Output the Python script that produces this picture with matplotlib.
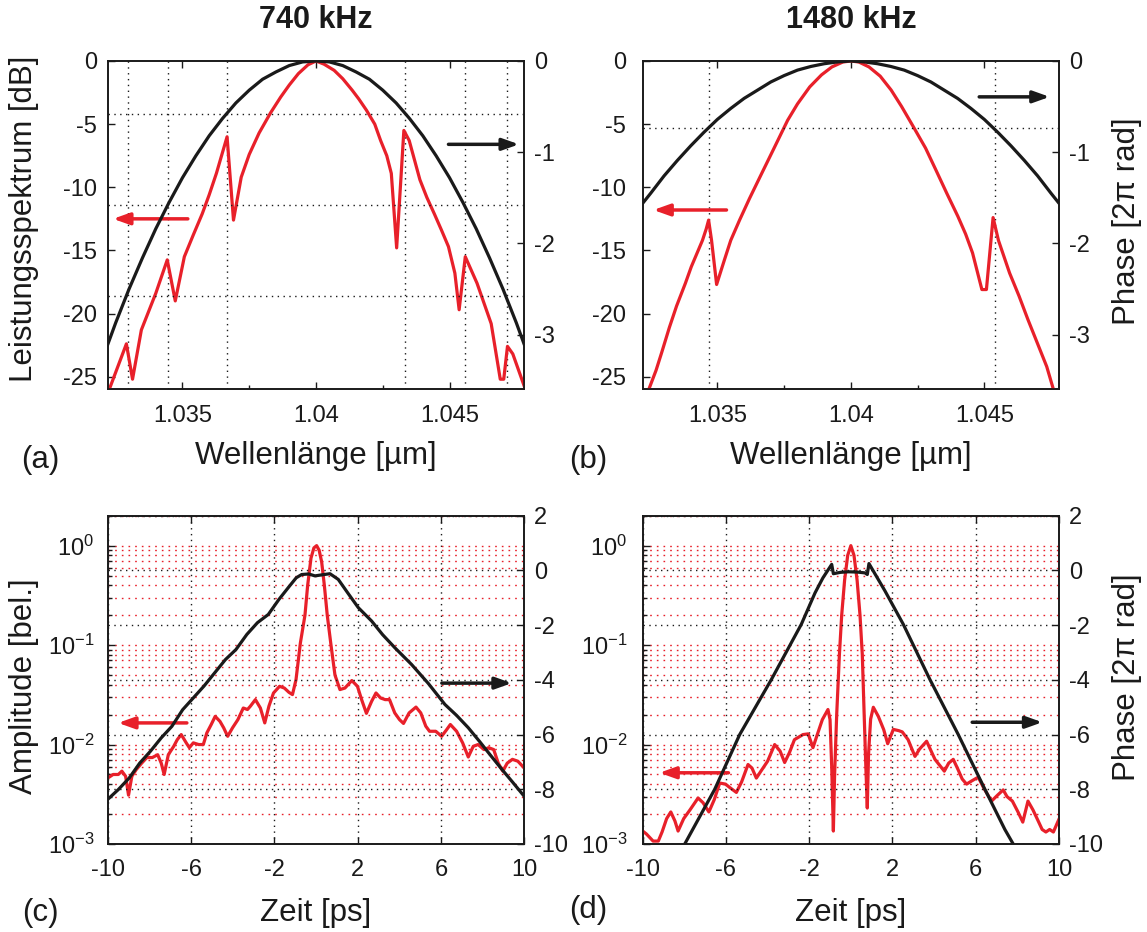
import matplotlib
matplotlib.use("Agg")
import matplotlib.pyplot as plt
from matplotlib.ticker import FixedLocator, NullFormatter, LogLocator

plt.rcParams['font.family'] = ['Liberation Sans', 'DejaVu Sans']
plt.rcParams['axes.unicode_minus'] = False
plt.rcParams['mathtext.default'] = 'regular'

RED = '#e8202a'
BLACK = '#1a1a1a'

# ---------------- data: spectra (a) 740 kHz ----------------
wl_a = [1.03226, 1.0329, 1.03313, 1.03346, 1.0340, 1.03443, 1.03473, 1.03507, 1.0354, 1.03574,
        1.0360, 1.03627, 1.03667, 1.03691, 1.0372, 1.0375, 1.03787, 1.0383, 1.03868, 1.0390,
        1.03934, 1.0397, 1.0400, 1.0403, 1.04068, 1.0410, 1.04135, 1.0416, 1.04189, 1.0422,
        1.04242, 1.04265, 1.04282, 1.04302, 1.04329, 1.04349, 1.04389, 1.04415, 1.04443, 1.0447,
        1.04496, 1.0452, 1.04536, 1.04559, 1.04603, 1.04656, 1.0469, 1.04703, 1.04717, 1.04737,
        1.04784]
spec_a = [-26.0, -22.4, -25.2, -21.3, -18.4, -15.75, -19.0, -15.5, -13.8, -12.1,
          -10.6, -8.9, -6.0, -12.6, -9.2, -7.4, -5.7, -4.1, -2.85, -1.9,
          -1.0, -0.3, 0.0, -0.25, -0.74, -1.4, -2.3, -3.0, -3.9, -5.0,
          -6.3, -7.5, -8.9, -14.8, -5.5, -6.3, -9.4, -10.8, -12.1, -13.4,
          -14.7, -16.8, -19.7, -15.5, -17.6, -20.8, -25.2, -25.2, -22.6, -23.2,
          -26.0]

# spectra (b) 1480 kHz
wl_b = [1.03243, 1.0327, 1.03291, 1.0332, 1.03347, 1.0338, 1.03402, 1.0343, 1.03444, 1.03458,
        1.03467, 1.03478, 1.03497, 1.03527, 1.0355, 1.03583, 1.0362, 1.03666, 1.0371, 1.03763,
        1.0380, 1.03846, 1.0389, 1.03929, 1.0397, 1.0400, 1.0403, 1.04068, 1.0411, 1.04151,
        1.0419, 1.04234, 1.0428, 1.04318, 1.0436, 1.04401, 1.0443, 1.04456, 1.04491, 1.04508,
        1.04533, 1.04553, 1.04595, 1.0463, 1.04664, 1.047, 1.04734, 1.04759]
spec_b = [-26.0, -24.5, -23.1, -21.1, -19.4, -17.6, -16.3, -14.9, -14.2, -13.3,
          -12.6, -14.2, -17.7, -15.7, -14.2, -12.6, -10.9, -8.9, -7.0, -4.7,
          -3.4, -2.05, -1.1, -0.47, -0.08, 0.0, -0.08, -0.47, -1.2, -2.3,
          -3.6, -5.2, -6.9, -8.6, -10.5, -12.3, -13.7, -15.2, -18.1, -18.1,
          -12.4, -14.2, -16.8, -18.6, -20.5, -22.4, -24.2, -26.0]

# spectral phase (2pi rad), read along the wavelength grid
wl_ph = [1.0322, 1.0325, 1.0330, 1.0335, 1.0340, 1.0345, 1.0350, 1.0355, 1.0360, 1.0365,
         1.0370, 1.0375, 1.0380, 1.0385, 1.0390, 1.0395, 1.0400, 1.0405, 1.0410, 1.0415,
         1.0420, 1.0425, 1.0430, 1.0435, 1.0440, 1.0445, 1.0450, 1.0455, 1.0460, 1.0465,
         1.0470, 1.0475, 1.0478]
phase_a = [-3.11, -2.87, -2.50, -2.16, -1.84, -1.55, -1.28, -1.04, -0.82, -0.63,
           -0.46, -0.32, -0.20, -0.12, -0.05, -0.01, 0.0, -0.01, -0.05, -0.12,
           -0.20, -0.32, -0.46, -0.63, -0.82, -1.04, -1.28, -1.55, -1.84, -2.16,
           -2.50, -2.87, -3.11]
phase_b = [-1.56, -1.45, -1.26, -1.09, -0.93, -0.78, -0.64, -0.52, -0.41, -0.32,
           -0.23, -0.16, -0.10, -0.06, -0.03, -0.01, 0.0, -0.01, -0.03, -0.06,
           -0.10, -0.16, -0.23, -0.32, -0.41, -0.52, -0.64, -0.78, -0.93, -1.09,
           -1.26, -1.45, -1.56]

# marker lines (dotted) in the spectra
vlines_a = [1.03295, 1.03447, 1.03667, 1.04334, 1.04559, 1.04715]
hlines_a = [-0.58, -1.58, -2.58]
vlines_b = [1.03467, 1.04542]
hlines_b = [-0.74]

# ---------------- data: time domain (c) ----------------
t_c = [-10.0, -9.74, -9.49, -9.32, -9.14, -9.0, -8.84, -8.63, -8.37, -8.12,
       -7.86, -7.60, -7.43, -7.29, -7.09, -6.83, -6.66, -6.47, -6.23, -6.08,
       -5.89, -5.63, -5.41, -5.24, -5.03, -4.84, -4.61, -4.43, -4.24, -4.01,
       -3.75, -3.49, -3.29, -3.15, -2.91, -2.67, -2.46, -2.26, -2.04, -1.75,
       -1.52, -1.30, -1.13, -0.96, -0.75, -0.53, -0.40, -0.24, -0.10, 0.03,
       0.15, 0.27, 0.40, 0.54, 0.72, 0.91, 1.15, 1.39, 1.72, 1.99,
       2.19, 2.42, 2.67, 2.88, 3.10, 3.32, 3.53, 3.78, 4.01, 4.20,
       4.47, 4.80, 5.03, 5.27, 5.45, 5.75, 6.03, 6.27, 6.45, 6.75,
       7.04, 7.31, 7.55, 7.78, 8.07, 8.29, 8.53, 8.75, 8.97, 9.18,
       9.43, 9.69, 10.0]
amp_c = [0.0046, 0.0050, 0.0050, 0.0054, 0.0048, 0.0031, 0.0048, 0.0056, 0.0065, 0.0074,
         0.0074, 0.0079, 0.0065, 0.0050, 0.0079, 0.0096, 0.0112, 0.0126, 0.0104, 0.0093,
         0.0104, 0.0100, 0.0100, 0.0131, 0.0159, 0.0192, 0.0171, 0.0147, 0.0121, 0.0147,
         0.0178, 0.0233, 0.0225, 0.0243, 0.0283, 0.0233, 0.0165, 0.0243, 0.0330, 0.0385,
         0.0370, 0.0335, 0.0318, 0.0449, 0.105, 0.20, 0.40, 0.75, 0.95, 1.0,
         0.90, 0.69, 0.40, 0.20, 0.10, 0.050, 0.0357, 0.0370, 0.0440, 0.0385,
         0.0283, 0.0206, 0.0272, 0.0330, 0.0294, 0.0283, 0.0283, 0.0208, 0.0178, 0.0163,
         0.0208, 0.0238, 0.0208, 0.0153, 0.0136, 0.0136, 0.0121, 0.0141, 0.0159, 0.0136,
         0.0104, 0.0075, 0.0096, 0.0100, 0.0089, 0.0093, 0.0089, 0.0065, 0.0054, 0.0065,
         0.0071, 0.0068, 0.0058]

tph_c = [-10.0, -9.49, -8.97, -8.46, -7.95, -7.43, -6.92, -6.40, -5.89, -5.38,
         -4.86, -4.35, -3.84, -3.32, -2.81, -2.29, -1.78, -1.27, -0.95, -0.69,
         -0.35, -0.05, 0.30, 0.67, 1.07, 1.55, 2.03, 2.67, 3.20, 3.79,
         4.59, 5.39, 6.19, 6.75, 7.31, 7.85, 8.35, 8.90, 9.45, 10.0]
ph_c = [-8.37, -8.01, -7.59, -7.04, -6.61, -6.12, -5.70, -5.09, -4.66, -4.23,
        -3.74, -3.26, -2.89, -2.34, -1.91, -1.61, -1.06, -0.57, -0.27, -0.15,
        -0.13, -0.20, -0.16, -0.12, -0.33, -0.85, -1.36, -1.85, -2.35, -2.83,
        -3.44, -4.13, -4.90, -5.30, -5.75, -6.25, -6.73, -7.25, -7.75, -8.26]

# ---------------- data: time domain (d) ----------------
t_d = [-10.0, -9.82, -9.50, -9.25, -9.07, -8.85, -8.65, -8.45, -8.30, -8.03,
       -7.73, -7.34, -7.10, -6.82, -6.56, -6.30, -6.02, -5.82, -5.50, -5.25,
       -4.94, -4.75, -4.54, -4.32, -4.00, -3.66, -3.40, -3.18, -2.95, -2.71,
       -2.30, -2.05, -1.82, -1.64, -1.37, -1.10, -1.00, -0.92, -0.84, -0.78,
       -0.68, -0.55, -0.44, -0.30, -0.15, 0.0, 0.15, 0.30, 0.44, 0.55,
       0.64, 0.72, 0.79, 0.85, 0.95, 1.08, 1.32, 1.58, 1.77, 2.04,
       2.30, 2.47, 2.75, 3.08, 3.30, 3.64, 4.04, 4.49, 4.70, 4.92,
       5.15, 5.35, 5.56, 5.80, 6.12, 6.40, 6.76, 7.05, 7.32, 7.50,
       7.76, 8.03, 8.26, 8.51, 8.75, 8.98, 9.19, 9.37, 9.55, 9.73,
       10.0]
amp_d = [0.00135, 0.00126, 0.00107, 0.00107, 0.00132, 0.0018, 0.0021, 0.0017, 0.00135, 0.0018,
         0.0022, 0.0029, 0.0026, 0.0021, 0.0028, 0.0041, 0.0040, 0.0037, 0.0033, 0.0042,
         0.0063, 0.0058, 0.0046, 0.0054, 0.0068, 0.0100, 0.0086, 0.0066, 0.0083, 0.0112,
         0.0126, 0.0128, 0.0093, 0.0121, 0.0178, 0.0225, 0.0178, 0.0060, 0.00135, 0.0050,
         0.020, 0.080, 0.20, 0.45, 0.80, 1.0, 0.80, 0.45, 0.20, 0.080,
         0.020, 0.0060, 0.0023, 0.0080, 0.018, 0.0237, 0.0192, 0.0141, 0.0102, 0.0142,
         0.0138, 0.0134, 0.0112, 0.0076, 0.0090, 0.0108, 0.0071, 0.0054, 0.0065, 0.0071,
         0.0056, 0.0045, 0.0040, 0.0043, 0.0047, 0.0036, 0.0027, 0.0031, 0.0035, 0.0030,
         0.0027, 0.0021, 0.00166, 0.0027, 0.0022, 0.00174, 0.0014, 0.00132, 0.0014, 0.00132,
         0.00178]

tph_d = [-7.98, -6.54, -5.34, -3.82, -2.38, -1.72, -1.34, -0.92, -0.84, -0.50,
         -0.12, 0.30, 0.68, 0.79, 0.87, 1.64, 2.52, 3.80, 5.16, 6.44,
         7.40, 7.80]
ph_d = [-10.0, -8.0, -6.0, -3.99, -1.97, -0.82, -0.27, 0.22, -0.12, -0.07,
        -0.05, -0.06, -0.09, -0.15, 0.25, -0.75, -1.97, -3.99, -6.0, -8.0,
        -9.47, -10.0]

titles = ['740 kHz', '1480 kHz']
xlab_top = 'Wellenlänge [µm]'
xlab_bot = 'Zeit [ps]'
ylab_spec = 'Leistungsspektrum [dB]'
ylab_amp = 'Amplitude [bel.]'
ylab_phase = 'Phase [2π rad]'
letters = ['(a)', '(b)', '(c)', '(d)']

# ---------------- figure ----------------
W, H = 1147, 932
fig = plt.figure(figsize=(W / 100, H / 100), dpi=100)
FT = 17
FL = 22.5
DOT_K = (0, (1.0, 3.2))
DOT_R = (0, (1.2, 3.6))
ARROW = dict(arrowstyle='-|>,head_length=0.7,head_width=0.25', lw=2.5,
             shrinkA=0, shrinkB=0, mutation_scale=14)


def box(px0, px1, py0, py1):
    return [px0 / W, 1 - py1 / H, (px1 - px0) / W, (py1 - py0) / H]


def style(ax, ypad):
    ax.tick_params(axis='both', which='both', direction='in', labelsize=FT, width=1.0,
                   colors=BLACK)
    ax.tick_params(axis='both', which='major', length=5)
    ax.tick_params(axis='both', which='minor', length=3)
    ax.tick_params(axis='x', pad=11, top=True)
    ax.tick_params(axis='y', pad=ypad)
    for s in ax.spines.values():
        s.set_linewidth(1.2)
        s.set_color(BLACK)


def arrow(ax, x0, x1, y, color):
    ax.annotate('', xy=(x1, y), xytext=(x0, y),
                arrowprops=dict(color=color, **ARROW))


XL = (1.0322, 1.0478)
pos_a = box(107.7, 524.3, 61.0, 389.3)
pos_b = box(642.7, 1059.0, 61.0, 389.3)
pos_c = box(107.7, 524.3, 515.7, 844.0)
pos_d = box(642.7, 1059.0, 515.7, 844.0)

for k, (pos, wl, spec, ph, vl, hl, lpad) in enumerate([
        (pos_a, wl_a, spec_a, phase_a, vlines_a, hlines_a, 7.5),
        (pos_b, wl_b, spec_b, phase_b, vlines_b, hlines_b, 12.0)]):
    ax = fig.add_axes(pos)
    ax2 = ax.twinx()
    ax.set_xlim(*XL)
    ax.set_ylim(-26, 0)
    ax2.set_ylim(-3.6, 0)
    for v in vl:
        ax.axvline(v, color=BLACK, lw=1.0, ls=DOT_K, zorder=1)
    for h in hl:
        ax2.axhline(h, color=BLACK, lw=1.0, ls=DOT_K, zorder=1)
    ax.plot(wl, spec, color=RED, lw=2.3, solid_joinstyle='round', zorder=3)
    ax2.plot(wl_ph, ph, color=BLACK, lw=2.3, zorder=3)
    ax.xaxis.set_major_locator(FixedLocator([1.035, 1.04, 1.045]))
    ax.set_xticklabels(['1.035', '1.04', '1.045'])
    ax.xaxis.set_minor_locator(FixedLocator([1.0375, 1.0425]))
    ax.set_yticks([0, -5, -10, -15, -20, -25])
    ax2.set_yticks([0, -1, -2, -3])
    style(ax, lpad)
    style(ax2, 7)
    ax2.tick_params(axis='x', which='both', top=False, bottom=False)
    if k == 0:
        arrow(ax, 1.0352, 1.0324, -12.5, RED)
        arrow(ax, 1.04496, 1.0476, -6.6, BLACK)
    else:
        arrow(ax, 1.03534, 1.0326, -11.8, RED)
        arrow(ax, 1.04481, 1.04745, -2.84, BLACK)

for k, (pos, tt, aa, tp, pp, lpad) in enumerate([
        (pos_c, t_c, amp_c, tph_c, ph_c, 9.5),
        (pos_d, t_d, amp_d, tph_d, ph_d, 11.0)]):
    ax = fig.add_axes(pos)
    ax.set_yscale('log')
    ax2 = ax.twinx()
    ax.set_xlim(-10, 10)
    ax.set_ylim(1e-3, 2.0)
    ax2.set_ylim(-10, 2)
    ax.set_xticks([-10, -6, -2, 2, 6, 10])
    ax.set_xticklabels(['-10', '-6', '-2', '2', '6', '10'])
    ax.yaxis.set_major_locator(FixedLocator([1e-3, 1e-2, 1e-1, 1e0]))
    ax.set_yticklabels([r'$10^{-3}$', r'$10^{-2}$', r'$10^{-1}$', r'$10^{0}$'])
    ax.yaxis.set_minor_locator(LogLocator(base=10, subs=(2, 3, 4, 5, 6, 7, 8, 9)))
    ax.yaxis.set_minor_formatter(NullFormatter())
    ax2.set_yticks([2, 0, -2, -4, -6, -8, -10])
    ax.yaxis.grid(True, which='both', color=RED, lw=1.0, ls=DOT_R)
    ax.xaxis.grid(True, which='major', color=BLACK, lw=1.0, ls=DOT_K)
    ax2.yaxis.grid(True, which='major', color=BLACK, lw=1.0, ls=DOT_K)
    ax.set_axisbelow(True)
    ax.plot(tt, aa, color=RED, lw=2.3, zorder=3)
    ax2.plot(tp, pp, color=BLACK, lw=2.3, zorder=3)
    style(ax, lpad)
    style(ax2, 7)
    ax2.tick_params(axis='x', which='both', top=False, bottom=False)
    if k == 0:
        arrow(ax, -6.2, -9.5, 0.0165, RED)
        arrow(ax2, 6.04, 9.4, -4.12, BLACK)
    else:
        arrow(ax, -5.88, -9.2, 0.0052, RED)
        arrow(ax2, 5.83, 9.2, -5.55, BLACK)


def ftext(px, py, s, **kw):
    fig.text(px / W, 1 - py / H, s, ha='center', va='center', color=BLACK, **kw)


ftext(316, 20, titles[0], fontsize=22, fontweight='bold')
ftext(851, 20, titles[1], fontsize=22, fontweight='bold')
ftext(316, 456, xlab_top, fontsize=FL)
ftext(851, 456, xlab_top, fontsize=FL)
ftext(316, 913, xlab_bot, fontsize=FL)
ftext(851, 913, xlab_bot, fontsize=FL)
ftext(24, 219, ylab_spec, fontsize=FL, rotation=90)
ftext(24, 686, ylab_amp, fontsize=FL, rotation=90)
ftext(1127, 221, ylab_phase, fontsize=FL, rotation=90)
ftext(1127, 677, ylab_phase, fontsize=FL, rotation=90)
ftext(40, 460, letters[0], fontsize=FL)
ftext(588, 460, letters[1], fontsize=FL)
ftext(40, 913, letters[2], fontsize=FL)
ftext(588, 910, letters[3], fontsize=FL)

fig.savefig('out.png', dpi=100)
